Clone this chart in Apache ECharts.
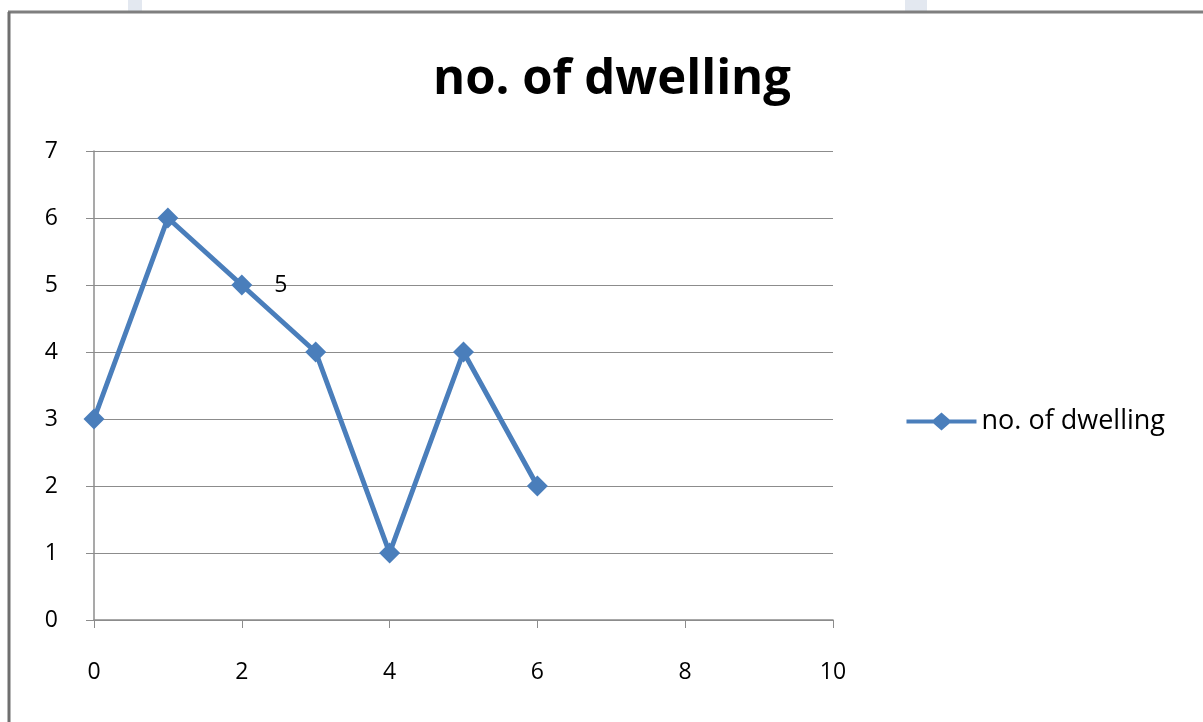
<!DOCTYPE html>
<html><head><meta charset="utf-8">
<script src="https://cdn.jsdelivr.net/npm/echarts@6/dist/echarts.min.js"></script>
<style>html,body{margin:0;padding:0;background:#fff}#c{width:1203px;height:722px}</style>
</head><body><div id="c"></div>
<script>
const seriesName = 'no. of dwelling';
const xValues = [0, 1, 2, 3, 4, 5, 6];
const yValues = [3, 6, 5, 4, 1, 4, 2];
const labeledIndex = 2;
const font = "'Open Sans', 'Noto Sans', sans-serif";
const chart = echarts.init(document.getElementById('c'));
chart.setOption({
  backgroundColor: '#ffffff',
  animation: false,
  title: {
    text: seriesName, left: 607, top: 51, textAlign: 'center',
    textStyle: { fontFamily: font, fontSize: 49, fontWeight: 'bold', color: '#000' }
  },
  legend: {
    right: 33, top: 403, itemWidth: 70, itemHeight: 18, itemGap: 4,
    icon: 'path://M0,7 L27,7 L35,0 L43,7 L70,7 L70,11 L43,11 L35,18 L27,11 L0,11 Z',
    textStyle: { fontFamily: font, fontSize: 27, color: '#000' },
    data: [seriesName]
  },
  grid: { left: 94, right: 370, top: 151, bottom: 102 },
  xAxis: {
    type: 'value', min: 0, max: 10, interval: 2,
    axisLine: { show: true, lineStyle: { color: '#8c8c8c', width: 1.5 } },
    axisTick: { show: true, inside: false, length: 8, lineStyle: { color: '#8c8c8c' } },
    axisLabel: { fontFamily: font, fontSize: 23, color: '#000', margin: 41 },
    splitLine: { show: false }
  },
  yAxis: {
    type: 'value', min: 0, max: 7, interval: 1,
    axisLine: { show: true, lineStyle: { color: '#8c8c8c', width: 1.5 } },
    axisTick: { show: true, length: 8, lineStyle: { color: '#8c8c8c' } },
    axisLabel: { fontFamily: font, fontSize: 23, color: '#000', margin: 36 },
    splitLine: { show: true, lineStyle: { color: '#8c8c8c', width: 1.2 } }
  },
  series: [{
    name: seriesName, type: 'line',
    data: xValues.map((x, i) => {
      const d = { value: [x, yValues[i]] };
      if (i === labeledIndex) d.label = { show: true, position: 'right', distance: 22, formatter: String(yValues[i]), fontFamily: font, fontSize: 23, color: '#000' };
      return d;
    }),
    symbol: 'diamond', symbolSize: 21,
    lineStyle: { color: '#4a7ebb', width: 5 },
    itemStyle: { color: '#4a7ebb' }
  }],
  graphic: [
    { type: 'line', shape: { x1: 8, y1: 12, x2: 1203, y2: 12 }, style: { stroke: '#7f7f7f', lineWidth: 3 }, z: 10 },
    { type: 'line', shape: { x1: 9, y1: 12, x2: 9, y2: 722 }, style: { stroke: '#6f6f6f', lineWidth: 3 }, z: 10 },
    { type: 'rect', shape: { x: 128, y: 0, width: 14, height: 12 }, style: { fill: '#e3e8f0' }, z: 5 },
    { type: 'rect', shape: { x: 905, y: 0, width: 22, height: 12 }, style: { fill: '#e3e8f0' }, z: 5 }
  ]
});
</script></body></html>
